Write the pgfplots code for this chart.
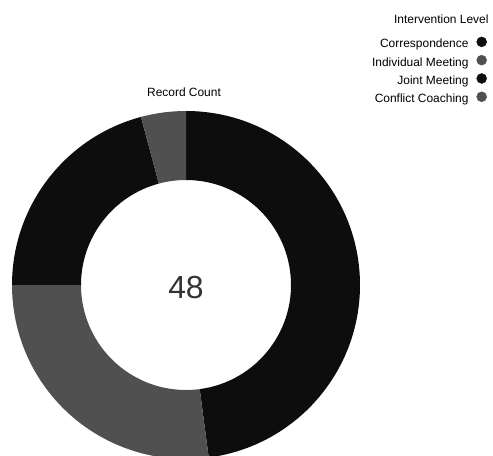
\documentclass[border=0pt]{standalone}
\usepackage{pgfplots}
\pgfplotsset{compat=1.18}
\usepackage{pgfplotstable}
\usepackage{fontspec}
\setmainfont{Liberation Sans}

\definecolor{segdark}{HTML}{0D0D0D}
\definecolor{seggray}{HTML}{505050}

% record count per intervention level, clockwise from 12 o'clock
\pgfplotstableread{
level value colour
Correspondence 23 segdark
IndividualMeeting 13 seggray
JointMeeting 10 segdark
ConflictCoaching 2 seggray
}\levels

\begin{document}
\begin{tikzpicture}
\path[use as bounding box] (0,0) rectangle (493bp,456bp);
\begin{axis}[
    at={(0,0)}, anchor=south west,
    x=1bp, y=1bp,
    xmin=0, xmax=493, ymin=0, ymax=456,
    scale only axis,
    hide axis,
    clip=false,
    legend plot pos=right,
    legend cell align=right,
    legend style={
        at={(0.988,0.92)}, anchor=north east,
        draw=none, fill=none,
        font=\fontsize{12}{14}\selectfont,
        inner sep=0pt,
        row sep=4.6bp, column sep=8bp,
        nodes={inner sep=0pt, text height=8.5bp, text depth=2.5bp},
    },
]
\def\total{48}
\def\cum{0}
\pgfplotsforeachungrouped \i in {0,1,2,3}{%
    \pgfplotstablegetelem{\i}{value}\of\levels \let\val\pgfplotsretval
    \pgfplotstablegetelem{\i}{colour}\of\levels \let\col\pgfplotsretval
    \pgfmathsetmacro\sa{90-\cum/\total*360}
    \pgfmathsetmacro\sb{90-(\cum+\val)/\total*360}
    \edef\slice{\noexpand\fill[\col] ([shift={(\sa:174bp)}]axis cs:186,171)
        arc[start angle=\sa, end angle=\sb, radius=174bp]
        -- ([shift={(\sb:105bp)}]axis cs:186,171)
        arc[start angle=\sb, end angle=\sa, radius=105bp] -- cycle;}
    \slice
    \pgfmathsetmacro\cum{\cum+\val}
}

\node[font=\fontsize{32}{36}\selectfont, text=black!80] at (axis cs:186,168) {48};
\node[font=\fontsize{12}{14}\selectfont] at (axis cs:184,364) {Record Count};
\node[font=\fontsize{12}{14}\selectfont, anchor=east] at (axis cs:492,437) {Intervention Level};

\addlegendimage{legend image code/.code={\fill[segdark] (0bp,3bp) circle[radius=5bp];}}
\addlegendentry{Correspondence}
\addlegendimage{legend image code/.code={\fill[seggray] (0bp,3bp) circle[radius=5bp];}}
\addlegendentry{Individual Meeting}
\addlegendimage{legend image code/.code={\fill[segdark] (0bp,3bp) circle[radius=5bp];}}
\addlegendentry{Joint Meeting}
\addlegendimage{legend image code/.code={\fill[seggray] (0bp,3bp) circle[radius=5bp];}}
\addlegendentry{Conflict Coaching}
\end{axis}
\end{tikzpicture}
\end{document}
